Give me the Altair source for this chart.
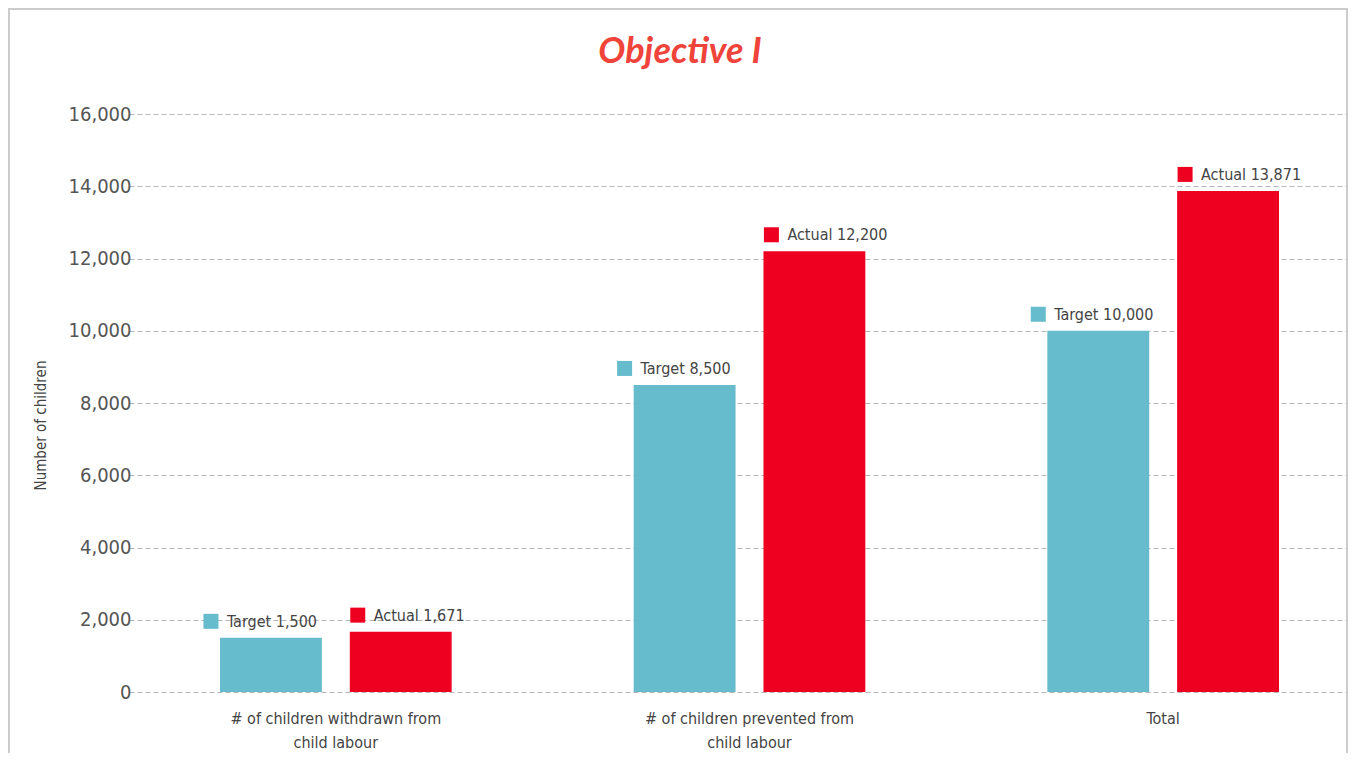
import altair as alt
import pandas as pd

categories = ["# of children withdrawn from\nchild labour",
              "# of children prevented from\nchild labour",
              "Total"]
series = ["Target", "Actual"]
target_values = [1500, 8500, 10000]
actual_values = [1671, 12200, 13871]
y_ticks = [0, 2000, 4000, 6000, 8000, 10000, 12000, 14000, 16000]
colors = ["#66BBCC", "#EE0020"]

rows = []
for c, t, a in zip(categories, target_values, actual_values):
    rows.append({"category": c, "series": "Target", "value": t})
    rows.append({"category": c, "series": "Actual", "value": a})
df = pd.DataFrame(rows)

FONT = "Liberation Sans Narrow, DejaVu Sans Condensed, sans-serif"

x_enc = alt.X("category:N", sort=categories,
              scale=alt.Scale(range=[-8, 1233], paddingInner=0.44, paddingOuter=0.22),
              axis=alt.Axis(title=None, domain=False, ticks=False, labelAngle=0,
                            labelExpr="split(datum.label, '\\n')", labelLimit=0,
                            labelFontSize=16, labelLineHeight=24, labelPadding=18,
                            labelColor="#444", labelFont=FONT, labelBaseline="top"))
xo_enc = alt.XOffset("series:N", sort=series,
                     scale=alt.Scale(paddingInner=0.215, paddingOuter=0))
y_enc = alt.Y("value:Q", scale=alt.Scale(domain=[0, 16000], nice=False),
              axis=alt.Axis(title="Number of children", values=y_ticks, format=",.0f",
                            domain=False, ticks=False, labelPadding=6,
                            labelFontSize=20, labelColor="#555", labelFont=FONT,
                            grid=True, gridColor="#b5b5b5", gridDash=[5, 3], gridWidth=1,
                            titleFont=FONT, titleFontSize=15, titleFontWeight="normal",
                            titleColor="#444", titleX=-97, titleY=311,
                            titleAlign="center", titleBaseline="middle", titleAngle=-90))
color_enc = alt.Color("series:N", scale=alt.Scale(domain=series, range=colors), legend=None)

base = alt.Chart(df)

bars = base.mark_bar().encode(x=x_enc, xOffset=xo_enc, y=y_enc, color=color_enc)

label_base = base.transform_calculate(
    label="datum.series + ' ' + format(datum.value, ',')"
)

# square key glyphs drawn left of / above each bar (unit = 7.5 px)
layers = [bars]
for s, path, tx_off in [("Target", "M -9 -3.2 h 2 v 2 h -2 Z", -44),
                        ("Actual", "M -6.73 -3.2 h 2 v 2 h -2 Z", -27)]:
    sub = label_base.transform_filter(alt.datum.series == s)
    sq = sub.mark_point(shape=path, size=225, filled=True, opacity=1, strokeWidth=0).encode(
        x=x_enc, xOffset=xo_enc, y=y_enc, color=color_enc)
    tx = sub.mark_text(align="left", baseline="middle", dx=tx_off, dy=-16,
                       fontSize=16, font=FONT, color="#444").encode(
        x=x_enc, xOffset=xo_enc, y=y_enc, text="label:N")
    layers += [sq, tx]

border = alt.Chart(pd.DataFrame({"k": [0]})).mark_rect(
    fill=None, stroke="#cccccc", strokeWidth=2, filled=False).encode(
    x=alt.value(-128), x2=alt.value(1210), y=alt.value(-105), y2=alt.value(700))

chart = alt.layer(border, *layers).properties(
    width=1188, height=578,
    title=alt.TitleParams("Objective I", fontSize=36, font="Lato", fontStyle="italic",
                          fontWeight="bold", color="#F0433A", anchor="middle",
                          dx=-51, offset=0, dy=63),
    autosize=alt.AutoSizeParams(type="none"),
    padding={"left": 129, "top": 106, "right": 23, "bottom": 61},
).configure(background="white").configure_view(stroke=None)

chart.save("out.html", embed_options={"renderer": "svg", "actions": False})
